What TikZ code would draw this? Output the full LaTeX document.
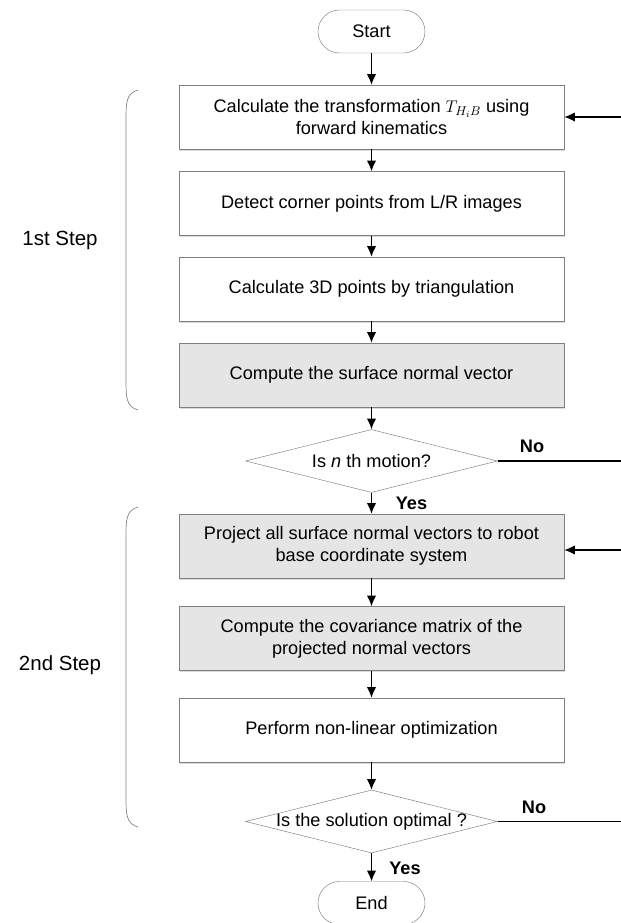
\documentclass[tikz,border=0pt]{standalone}
\usepackage{fontspec}
\setmainfont{Liberation Sans}
\usetikzlibrary{shapes.geometric,arrows.meta,shadows}
\definecolor{boxgray}{RGB}{229,229,229}
\definecolor{edgegray}{RGB}{128,128,128}
\definecolor{bracegray}{RGB}{125,135,150}
\begin{document}
\begin{tikzpicture}[
  font=\fontsize{15.5}{19}\selectfont,
  proc/.style={draw=edgegray,fill=white,minimum width=11.55cm,minimum height=1.92cm,
    align=center,inner sep=0pt,
    drop shadow={shadow xshift=0.6pt,shadow yshift=-1.5pt,fill=bracegray,opacity=0.3}},
  procgray/.style={proc,fill=boxgray},
  term/.style={draw=edgegray,fill=white,rounded corners=0.645cm,minimum width=3.21cm,minimum height=1.29cm},
  test/.style={diamond,aspect=4,draw=edgegray,fill=white,minimum width=7.56cm,minimum height=1.89cm,
    inner sep=0pt,inner xsep=-0.2cm},
  flow/.style={-{Latex[length=9pt,width=8pt]},line width=1.2pt},
  answer/.style={font=\fontsize{15.5}{19}\selectfont\bfseries},
  steplabel/.style={font=\fontsize{17.5}{21}\selectfont},
  bracepath/.style={draw=bracegray,line width=0.6pt}
]
\useasboundingbox (0,0) rectangle (18.63,-27.69);

% main column
\node[term] (start) at (11.145,-.945) {Start};
\node[proc] (kin) at (11.145,-3.51) {Calculate the transformation $T_{H_iB}$ using\\forward kinematics};
\node[proc] (corner) at (11.145,-6.105) {Detect corner points from L/R images};
\node[proc] (tri) at (11.145,-8.67) {Calculate 3D points by triangulation};
\node[procgray] (normal) at (11.145,-11.25) {Compute the surface normal vector};
\node[test] (nth) at (11.145,-13.83) {Is \textit{n} th motion?};
\node[procgray] (proj) at (11.145,-16.38) {Project all surface normal vectors to robot\\base coordinate system};
\node[procgray] (cov) at (11.145,-19.155) {Compute the covariance matrix of the\\projected normal vectors};
\node[proc] (opt) at (11.145,-21.9) {Perform non-linear optimization};
\node[test] (optimal) at (11.145,-24.645) {Is the solution optimal ?};
\node[term] (end) at (11.145,-27.09) {End};

\foreach \a/\b in {start/kin,kin/corner,corner/tri,tri/normal,normal/nth,
                   nth/proj,proj/cov,cov/opt,opt/optimal,optimal/end}
  \draw[flow] (\a) -- (\b);

% answers
\node[answer] (no1) at (15.96,-13.38) {No};
\node[answer] (yes1) at (12.345,-15.09) {Yes};
\node[answer] (no2) at (16.02,-24.21) {No};
\node[answer] (yes2) at (12.15,-26.04) {Yes};

% loops back from the right edge
\coordinate (back1) at (18.63,-3.51);
\coordinate (out1) at (18.63,-13.83);
\coordinate (back2) at (18.63,-16.5);
\coordinate (out2) at (18.63,-24.645);
\draw[line width=1.2pt] (nth.east) -- (out1);
\draw[line width=1.2pt] (optimal.east) -- (out2);
\draw[flow] (back1) -- (back1 -| kin.east);
\draw[flow] (back2) -- (back2 -| proj.east);

% step brackets
\node[steplabel] (step1) at (1.8,-7.2) {1st Step};
\node[steplabel] (step2) at (1.8,-19.95) {2nd Step};
\draw[bracepath] (4.14,-2.7) .. controls (3.78,-2.8) and (3.78,-3.1) .. (3.78,-3.6)
  -- (3.78,-11.4) .. controls (3.78,-11.9) and (3.78,-12.2) .. (4.14,-12.3);
\draw[bracepath] (4.14,-15.21) .. controls (3.78,-15.31) and (3.78,-15.61) .. (3.78,-16.11)
  -- (3.78,-23.91) .. controls (3.78,-24.41) and (3.78,-24.71) .. (4.14,-24.81);
\end{tikzpicture}
\end{document}
